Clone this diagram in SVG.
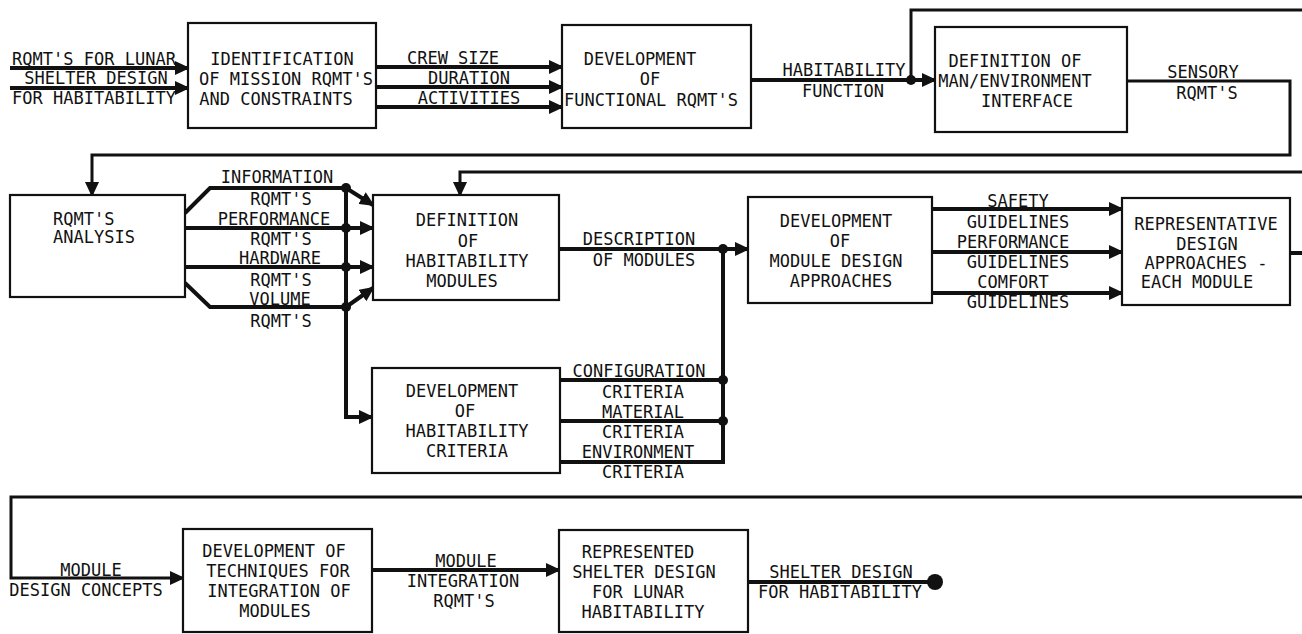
<svg xmlns="http://www.w3.org/2000/svg" width="1302" height="634" viewBox="0 0 1302 634">
<style>
.t{font-family:"DejaVu Sans Mono","Liberation Mono",monospace;font-size:17px;fill:#111;text-anchor:middle}
.s{text-anchor:start}
.box{fill:#fff;stroke:#111;stroke-width:2.2}
.w{fill:none;stroke:#111;stroke-width:4}
.r{fill:none;stroke:#111;stroke-width:3}
.dot{fill:#111}
</style>
<defs>
<marker id="ah" markerUnits="userSpaceOnUse" markerWidth="15" markerHeight="14" refX="13" refY="7" orient="auto">
<path d="M0,0 L15,7 L0,14 Z" fill="#111"/>
</marker>
</defs>
<rect width="1302" height="634" fill="#fff"/>

<g id="connectors">
<path class="w" d="M10,68 H188" marker-end="url(#ah)"/>
<path class="w" d="M10,88 H188" marker-end="url(#ah)"/>
<path class="w" d="M376,67 H562" marker-end="url(#ah)"/>
<path class="w" d="M376,87 H562" marker-end="url(#ah)"/>
<path class="w" d="M376,107 H562" marker-end="url(#ah)"/>
<path class="w" d="M751,80 H935" marker-end="url(#ah)"/>
<path class="r" d="M911,80 V10 H1302"/>
<circle class="dot" cx="911" cy="80" r="5"/>
<path class="r" d="M1127,81 H1290 V155 H92 V195" marker-end="url(#ah)"/>
<path class="r" d="M1302,172 H460 V195" marker-end="url(#ah)"/>

<path class="w" d="M185,213 L210,188 H346"/>
<path class="w" d="M346,188 L373,205" marker-end="url(#ah)"/>
<path class="w" d="M185,228 H373" marker-end="url(#ah)"/>
<path class="w" d="M185,267 H373" marker-end="url(#ah)"/>
<path class="w" d="M185,283 L210,307 H346"/>
<path class="w" d="M346,307 L373,288" marker-end="url(#ah)"/>
<path class="w" d="M346,188 V417 H372" marker-end="url(#ah)"/>
<circle class="dot" cx="346" cy="188" r="5"/>
<circle class="dot" cx="346" cy="228" r="5"/>
<circle class="dot" cx="346" cy="267" r="5"/>
<circle class="dot" cx="346" cy="307" r="5"/>

<path class="w" d="M559,249 H748" marker-end="url(#ah)"/>
<path class="w" d="M560,380 H723"/>
<path class="w" d="M560,421 H723"/>
<path class="w" d="M560,462 H723 V249"/>
<circle class="dot" cx="723" cy="249" r="5"/>
<circle class="dot" cx="723" cy="380" r="5"/>
<circle class="dot" cx="723" cy="421" r="5"/>

<path class="w" d="M932,209 H1122" marker-end="url(#ah)"/>
<path class="w" d="M932,252 H1122" marker-end="url(#ah)"/>
<path class="w" d="M932,293 H1122" marker-end="url(#ah)"/>
<path class="w" d="M1290,253 H1302"/>

<path class="r" d="M1302,497 H11 V578 H183" marker-end="url(#ah)"/>
<path class="w" d="M372,570 H559" marker-end="url(#ah)"/>
<path class="w" d="M748,582 H930"/>
<circle class="dot" cx="935" cy="582" r="8"/>
</g>

<g id="labels">
<text class="t" x="94" y="65">RQMT'S FOR LUNAR</text>
<text class="t" x="96" y="84">SHELTER DESIGN</text>
<text class="t" x="94" y="104">FOR HABITABILITY</text>
<text class="t" x="453" y="64">CREW SIZE</text>
<text class="t" x="469" y="84">DURATION</text>
<text class="t" x="469" y="104">ACTIVITIES</text>
<text class="t" x="844" y="76">HABITABILITY</text>
<text class="t" x="843" y="97">FUNCTION</text>
<text class="t" x="1203" y="78">SENSORY</text>
<text class="t" x="1207" y="99">RQMT'S</text>

<text class="t" x="277" y="183">INFORMATION</text>
<text class="t" x="281" y="205">RQMT'S</text>
<text class="t" x="274" y="225">PERFORMANCE</text>
<text class="t" x="281" y="245">RQMT'S</text>
<text class="t" x="280" y="264">HARDWARE</text>
<text class="t" x="281" y="286">RQMT'S</text>
<text class="t" x="280" y="305">VOLUME</text>
<text class="t" x="281" y="327">RQMT'S</text>

<text class="t" x="639" y="245">DESCRIPTION</text>
<text class="t" x="644" y="266">OF MODULES</text>

<text class="t" x="639" y="377">CONFIGURATION</text>
<text class="t" x="643" y="398">CRITERIA</text>
<text class="t" x="643" y="418">MATERIAL</text>
<text class="t" x="643" y="438">CRITERIA</text>
<text class="t" x="638" y="458">ENVIRONMENT</text>
<text class="t" x="643" y="478">CRITERIA</text>

<text class="t" x="1018" y="207">SAFETY</text>
<text class="t" x="1018" y="228">GUIDELINES</text>
<text class="t" x="1013" y="248">PERFORMANCE</text>
<text class="t" x="1018" y="268">GUIDELINES</text>
<text class="t" x="1013" y="288">COMFORT</text>
<text class="t" x="1018" y="308">GUIDELINES</text>

<text class="t" x="91" y="576">MODULE</text>
<text class="t" x="86" y="596">DESIGN CONCEPTS</text>
<text class="t" x="466" y="567">MODULE</text>
<text class="t" x="463" y="587">INTEGRATION</text>
<text class="t" x="464" y="607">RQMT'S</text>
<text class="t" x="841" y="578">SHELTER DESIGN</text>
<text class="t" x="840" y="598">FOR HABITABILITY</text>
</g>

<g id="identification">
<rect class="box" x="188" y="23" width="188" height="105"/>
<text class="t" x="282" y="65">IDENTIFICATION</text>
<text class="t" x="286" y="85">OF MISSION RQMT'S</text>
<text class="t" x="276" y="105">AND CONSTRAINTS</text>
</g>

<g id="functional">
<rect class="box" x="562" y="25" width="189" height="103"/>
<text class="t" x="640" y="65">DEVELOPMENT</text>
<text class="t" x="650" y="85">OF</text>
<text class="t" x="651" y="106">FUNCTIONAL RQMT'S</text>
</g>

<g id="man-environment">
<rect class="box" x="935" y="27" width="192" height="105"/>
<text class="t" x="1015" y="67">DEFINITION OF</text>
<text class="t" x="1015" y="87">MAN/ENVIRONMENT</text>
<text class="t" x="1027" y="107">INTERFACE</text>
</g>

<g id="analysis">
<rect class="box" x="10" y="195" width="175" height="102"/>
<text class="t s" x="53" y="225">RQMT'S</text>
<text class="t s" x="53" y="243">ANALYSIS</text>
</g>

<g id="modules">
<rect class="box" x="373" y="195" width="186" height="105"/>
<text class="t" x="467" y="226">DEFINITION</text>
<text class="t" x="468" y="247">OF</text>
<text class="t" x="467" y="267">HABITABILITY</text>
<text class="t" x="462" y="287">MODULES</text>
</g>

<g id="criteria">
<rect class="box" x="372" y="368" width="188" height="105"/>
<text class="t" x="462" y="397">DEVELOPMENT</text>
<text class="t" x="465" y="417">OF</text>
<text class="t" x="467" y="437">HABITABILITY</text>
<text class="t" x="467" y="457">CRITERIA</text>
</g>

<g id="approaches">
<rect class="box" x="748" y="197" width="184" height="106"/>
<text class="t" x="836" y="227">DEVELOPMENT</text>
<text class="t" x="840" y="247">OF</text>
<text class="t" x="836" y="267">MODULE DESIGN</text>
<text class="t" x="841" y="287">APPROACHES</text>
</g>

<g id="representative">
<rect class="box" x="1122" y="198" width="168" height="107"/>
<text class="t" x="1206" y="230">REPRESENTATIVE</text>
<text class="t" x="1207" y="250">DESIGN</text>
<text class="t" x="1206" y="269">APPROACHES -</text>
<text class="t" x="1197" y="288">EACH MODULE</text>
</g>

<g id="techniques">
<rect class="box" x="183" y="529" width="189" height="103"/>
<text class="t" x="274" y="557">DEVELOPMENT OF</text>
<text class="t" x="278" y="577">TECHNIQUES FOR</text>
<text class="t" x="279" y="597">INTEGRATION OF</text>
<text class="t" x="275" y="617">MODULES</text>
</g>

<g id="represented">
<rect class="box" x="559" y="530" width="189" height="102"/>
<text class="t" x="638" y="558">REPRESENTED</text>
<text class="t" x="644" y="578">SHELTER DESIGN</text>
<text class="t" x="638" y="598">FOR LUNAR</text>
<text class="t" x="643" y="618">HABITABILITY</text>
</g>
</svg>
